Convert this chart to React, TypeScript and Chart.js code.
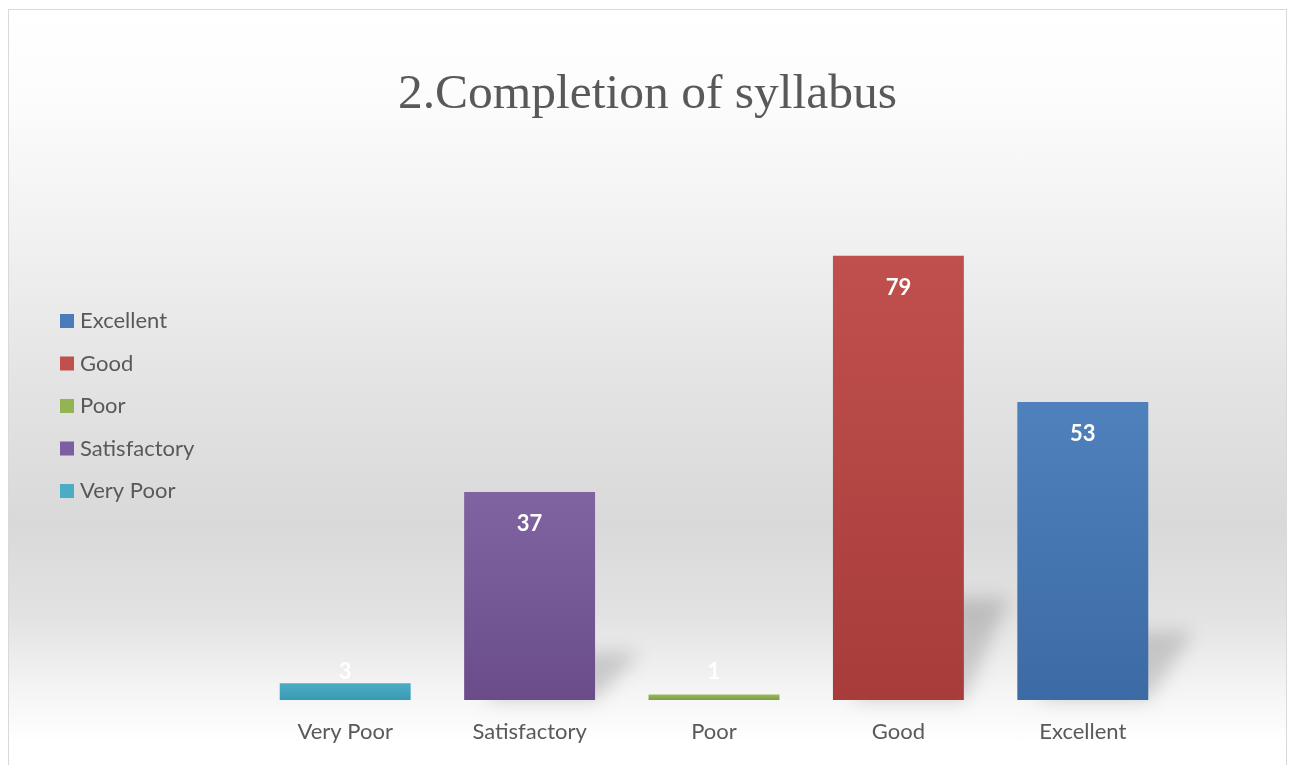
import React, { useEffect, useRef } from 'react';
import { Chart, registerables } from 'chart.js';

Chart.register(...registerables);

const categories = ['Very Poor', 'Satisfactory', 'Poor', 'Good', 'Excellent'];
const values = [3, 37, 1, 79, 53];
const barTopColors = ['#4bacc6', '#8064a2', '#9bbb59', '#c0504d', '#4f81bd'];
const barBottomColors = ['#3a9ab4', '#6a4c8a', '#7f9a45', '#a73c3a', '#3c6aa4'];
const legendColors = ['#4bacc6', '#7c5fa0', '#93b452', '#c0504d', '#4a7bbb'];
const titleText = '2.Completion of syllabus';
const yMax = 90;

const TEXT_COLOR = '#595959';
const LABEL_FONT = 'Lato, "Open Sans", sans-serif';

const titlePlugin = {
  id: 'centerTitle',
  afterDraw(chart: any) {
    const ctx = chart.ctx;
    ctx.save();
    ctx.font = '49.5px "Liberation Serif", serif';
    ctx.fillStyle = TEXT_COLOR;
    ctx.textAlign = 'center';
    ctx.textBaseline = 'alphabetic';
    ctx.fillText(titleText, chart.width / 2, 98);
    ctx.restore();
  },
};

const shadowPlugin = {
  id: 'barShadow',
  beforeDatasetsDraw(chart: any) {
    const ctx = chart.ctx;
    const meta = chart.getDatasetMeta(0);
    ctx.save();
    ctx.filter = 'blur(9px)';
    ctx.fillStyle = 'rgba(0,0,0,0.16)';
    meta.data.forEach((el: any) => {
      const w = el.width;
      const L = el.x - w / 2;
      const R = el.x + w / 2;
      const B = el.base;
      const h = B - el.y;
      const sh = h * 0.23;
      const dx = 45;
      if (sh < 8) return;
      ctx.beginPath();
      ctx.moveTo(L + 20, B);
      ctx.lineTo(R, B);
      ctx.lineTo(R + dx, B - sh);
      ctx.lineTo(L + 20 + dx, B - sh);
      ctx.closePath();
      ctx.fill();
    });
    ctx.restore();
  },
};

const labelPlugin = {
  id: 'barLabels',
  afterDatasetsDraw(chart: any) {
    const ctx = chart.ctx;
    const meta = chart.getDatasetMeta(0);
    ctx.save();
    ctx.font = `bold 22px ${LABEL_FONT}`;
    ctx.fillStyle = '#ffffff';
    ctx.textAlign = 'center';
    ctx.textBaseline = 'middle';
    meta.data.forEach((el: any, i: number) => {
      const y = Math.min(el.y + 32, el.base - 28);
      ctx.fillText(String(values[i]), el.x, y);
    });
    ctx.restore();
  },
};

const legendPlugin = {
  id: 'sideLegend',
  afterDraw(chart: any) {
    const ctx = chart.ctx;
    ctx.save();
    ctx.font = `22px ${LABEL_FONT}`;
    ctx.textBaseline = 'middle';
    ctx.textAlign = 'left';
    const n = categories.length;
    for (let k = 0; k < n; k++) {
      const idx = n - 1 - k;
      const cy = 311 + k * 42.5;
      ctx.fillStyle = legendColors[idx];
      ctx.fillRect(51, cy - 7, 14, 14);
      ctx.fillStyle = TEXT_COLOR;
      ctx.fillText(categories[idx], 71, cy);
    }
    ctx.restore();
  },
};

function barGradient(context: any) {
  const chart = context.chart;
  const i = context.dataIndex;
  const y = chart.scales?.y;
  if (!chart.chartArea || !y || i === undefined) return barTopColors[i ?? 0];
  const top = y.getPixelForValue(values[i]);
  const base = y.getPixelForValue(0);
  const g = chart.ctx.createLinearGradient(0, top, 0, base);
  g.addColorStop(0, barTopColors[i]);
  g.addColorStop(1, barBottomColors[i]);
  return g;
}

export default function App() {
  const ref = useRef<HTMLCanvasElement | null>(null);

  useEffect(() => {
    if (!ref.current) return;
    const chart = new Chart(ref.current, {
      type: 'bar',
      data: {
        labels: categories,
        datasets: [
          {
            label: 'Completion of syllabus',
            data: values,
            backgroundColor: barGradient as any,
            borderWidth: 0,
            categoryPercentage: 1,
            barPercentage: 0.71,
          },
        ],
      },
      options: {
        animation: false,
        responsive: false,
        maintainAspectRatio: false,
        layout: { padding: { left: 244, right: 111, top: 184, bottom: 1 } },
        plugins: {
          legend: { display: false },
          tooltip: { enabled: false },
          title: { display: false },
        },
        scales: {
          x: {
            grid: { display: false, drawTicks: false },
            border: { display: false },
            ticks: {
              color: TEXT_COLOR,
              font: { family: LABEL_FONT, size: 22 },
              padding: 18.8,
            },
          },
          y: {
            display: false,
            min: 0,
            max: yMax,
          },
        },
      },
      plugins: [shadowPlugin, labelPlugin, legendPlugin, titlePlugin],
    });
    return () => chart.destroy();
  }, []);

  return (
    <div
      style={{
        width: 1277,
        height: 755,
        marginTop: 1,
        border: '1px solid #d9d9d9',
        background:
          'linear-gradient(to bottom, #ffffff 0%, #fcfcfc 12%, #f1f1f1 30%, #e3e3e3 50%, #d9d9d9 68%, #e2e2e2 80%, #f4f4f4 90%, #ffffff 97%, #ffffff 100%)',
      }}
    >
      <canvas ref={ref} width={1277} height={755} style={{ display: 'block' }} />
    </div>
  );
}
